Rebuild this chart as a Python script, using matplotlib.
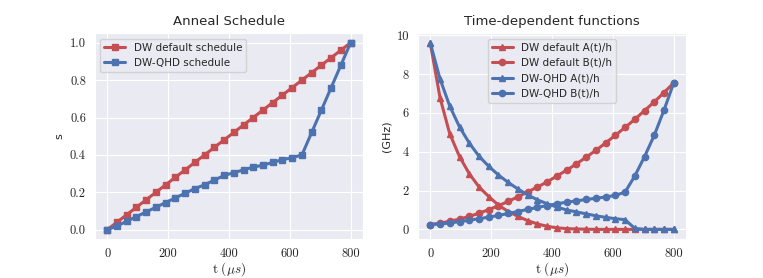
import matplotlib
matplotlib.use('Agg')
import matplotlib.pyplot as plt
import seaborn as sns
import numpy as np

# anneal time points (microseconds)
t = [0, 32, 64, 96, 128, 160, 192, 224, 256, 288, 320, 352, 384, 416, 448,
     480, 512, 544, 576, 608, 640, 672, 704, 736, 768, 800]

# anneal schedules s(t)
s_default = [0.0, 0.04, 0.08, 0.12, 0.16, 0.20, 0.24, 0.28, 0.32, 0.36, 0.40, 0.44, 0.48,
             0.52, 0.56, 0.60, 0.64, 0.68, 0.72, 0.76, 0.80, 0.84, 0.88, 0.92, 0.96, 1.0]
s_qhd = [0.0, 0.02, 0.045, 0.07, 0.095, 0.12, 0.145, 0.17, 0.195, 0.22, 0.24, 0.265, 0.29,
         0.305, 0.32, 0.335, 0.345, 0.36, 0.375, 0.385, 0.40, 0.52, 0.64, 0.76, 0.88, 1.0]

# time-dependent functions (GHz)
A_default = [9.6, 6.78, 4.92, 3.75, 2.87, 2.19, 1.69, 1.25, 0.92, 0.67, 0.45, 0.28, 0.16,
             0.08, 0.04, 0.02, 0.01, 0.0, 0.0, 0.0, 0.0, 0.0, 0.0, 0.0, 0.0, 0.0]
B_default = [0.25, 0.32, 0.42, 0.53, 0.67, 0.83, 1.02, 1.22, 1.44, 1.68, 1.93, 2.18, 2.45,
             2.75, 3.05, 3.37, 3.72, 4.07, 4.45, 4.85, 5.25, 5.67, 6.12, 6.57, 7.05, 7.55]
A_qhd = [9.6, 7.75, 6.35, 5.28, 4.45, 3.77, 3.25, 2.8, 2.42, 2.08, 1.78, 1.52, 1.32,
         1.15, 1.0, 0.9, 0.8, 0.7, 0.62, 0.55, 0.5, 0.05, 0.0, 0.0, 0.0, 0.0]
B_qhd = [0.25, 0.28, 0.33, 0.4, 0.47, 0.55, 0.63, 0.72, 0.82, 0.92, 1.03, 1.13, 1.23,
         1.32, 1.4, 1.47, 1.54, 1.6, 1.67, 1.75, 1.92, 2.75, 3.75, 4.85, 6.15, 7.55]

sns.set_style('darkgrid')
plt.rcParams['font.family'] = ['DejaVu Sans']
plt.rcParams['mathtext.fontset'] = 'cm'

red = '#C44E52'
blue = '#4C72B0'

fig = plt.figure(figsize=(7.63, 2.78), dpi=100)
ax1 = fig.add_axes([0.1245, 0.14, 0.351, 0.74])
ax2 = fig.add_axes([0.548, 0.14, 0.351, 0.74])

# left panel: schedules
ax1.plot(t, s_default, color=red, marker='s', lw=2.2, ms=4.5, label='DW default schedule')
ax1.plot(t, s_qhd, color=blue, marker='s', lw=2.2, ms=4.5, label='DW-QHD schedule')
ax1.set_title('Anneal Schedule', fontsize=9.5)
ax1.set_ylabel('s', fontsize=8)
ax1.set_xticks([0, 200, 400, 600, 800])
ax1.set_yticks([0.0, 0.2, 0.4, 0.6, 0.8, 1.0])
ax1.set_xlim(-40, 840)
ax1.set_ylim(-0.05, 1.05)
ax1.legend(loc='upper left', fontsize=7.5)

# right panel: A(t)/h and B(t)/h
ax2.plot(t, A_default, color=red, marker='^', lw=2.2, ms=4.5, label='DW default A(t)/h')
ax2.plot(t, B_default, color=red, marker='o', lw=2.2, ms=4.5, label='DW default B(t)/h')
ax2.plot(t, A_qhd, color=blue, marker='^', lw=2.2, ms=4.5, label='DW-QHD A(t)/h')
ax2.plot(t, B_qhd, color=blue, marker='o', lw=2.2, ms=4.5, label='DW-QHD B(t)/h')
ax2.set_title('Time-dependent functions', fontsize=9.5)
ax2.set_ylabel('(GHz)', fontsize=8)
ax2.set_xticks([0, 200, 400, 600, 800])
ax2.set_yticks([0, 2, 4, 6, 8, 10])
ax2.set_xlim(-40, 840)
ax2.set_ylim(-0.5, 10.1)
ax2.legend(loc='upper center', fontsize=7.5)

for ax in (ax1, ax2):
    ax.set_xlabel(r'$\mathrm{t}\ (\mu s)$', fontsize=9.5, labelpad=0)
    ax.tick_params(labelsize=9, pad=3)
    for lab in ax.get_xticklabels() + ax.get_yticklabels():
        lab.set_fontfamily('cmr10')

fig.savefig('out.png', dpi=100)
